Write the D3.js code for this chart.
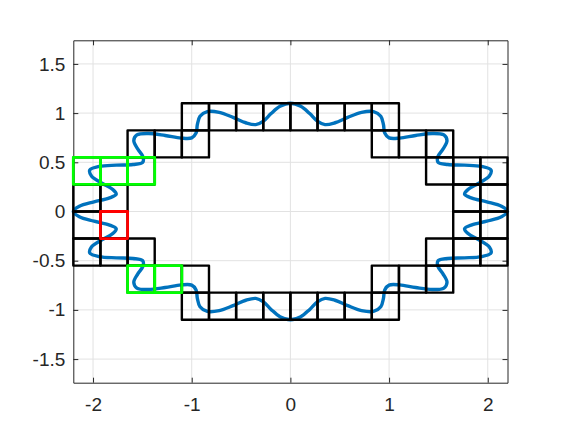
<!DOCTYPE html>
<html>
<head>
<meta charset="utf-8">
<script src="https://cdn.jsdelivr.net/npm/d3@7"></script>
<style>
  body { margin: 0; background: #fff; }
  .tick text { font-family: "Liberation Sans", Arial, sans-serif; font-size: 19px; fill: #262626; }
  .tick line, .domain { stroke: #262626; }
</style>
</head>
<body>
<div id="chart"></div>
<script>
const xTicks = [-2, -1, 0, 1, 2];
const yTicks = [-1.5, -1, -0.5, 0, 0.5, 1, 1.5];
const xLimits = [-2.2, 2.2];
const yLimits = [-1.74, 1.74];

// wavy closed curve (2.2, 0)
const curveX = [
  2.200, 2.139, 1.990, 1.839, 1.765, 1.803, 1.914, 2.016, 2.033, 1.936, 1.764, 1.594, 1.497, 1.493, 1.546, 1.587,
  1.556, 1.438, 1.269, 1.107, 1.000, 0.956, 0.943, 0.916, 0.842, 0.721, 0.581, 0.452, 0.351, 0.273, 0.196, 0.105,
  0.000, -0.105, -0.196, -0.273, -0.351, -0.452, -0.581, -0.721, -0.842, -0.916, -0.943, -0.956, -1.000, -1.107, -1.269, -1.438,
  -1.556, -1.587, -1.546, -1.493, -1.497, -1.594, -1.764, -1.936, -2.033, -2.016, -1.914, -1.803, -1.765, -1.839, -1.990, -2.139,
  -2.200, -2.139, -1.990, -1.839, -1.765, -1.803, -1.914, -2.016, -2.033, -1.936, -1.764, -1.594, -1.497, -1.493, -1.546, -1.587,
  -1.556, -1.438, -1.269, -1.107, -1.000, -0.956, -0.943, -0.916, -0.842, -0.721, -0.581, -0.452, -0.351, -0.273, -0.196, -0.105,
  0.000, 0.105, 0.196, 0.273, 0.351, 0.452, 0.581, 0.721, 0.842, 0.916, 0.943, 0.956, 1.000, 1.107, 1.269, 1.438,
  1.556, 1.587, 1.546, 1.493, 1.497, 1.594, 1.764, 1.936, 2.033, 2.016, 1.914, 1.803, 1.765, 1.839, 1.990, 2.139
];
const curveY = [
  0.000, 0.053, 0.098, 0.136, 0.176, 0.226, 0.290, 0.361, 0.421, 0.458, 0.471, 0.478, 0.500, 0.554, 0.634, 0.719,
  0.778, 0.793, 0.773, 0.746, 0.748, 0.797, 0.882, 0.968, 1.016, 1.008, 0.957, 0.902, 0.883, 0.919, 0.995, 1.069,
  1.100, 1.069, 0.995, 0.919, 0.883, 0.902, 0.957, 1.008, 1.016, 0.968, 0.882, 0.797, 0.748, 0.746, 0.773, 0.793,
  0.778, 0.719, 0.634, 0.554, 0.500, 0.478, 0.471, 0.458, 0.421, 0.361, 0.290, 0.226, 0.176, 0.136, 0.098, 0.053,
  0.000, -0.053, -0.098, -0.136, -0.176, -0.226, -0.290, -0.361, -0.421, -0.458, -0.471, -0.478, -0.500, -0.554, -0.634, -0.719,
  -0.778, -0.793, -0.773, -0.746, -0.748, -0.797, -0.882, -0.968, -1.016, -1.008, -0.957, -0.902, -0.883, -0.919, -0.995, -1.069,
  -1.100, -1.069, -0.995, -0.919, -0.883, -0.902, -0.957, -1.008, -1.016, -0.968, -0.882, -0.797, -0.748, -0.746, -0.773, -0.793,
  -0.778, -0.719, -0.634, -0.554, -0.500, -0.478, -0.471, -0.458, -0.421, -0.361, -0.290, -0.226, -0.176, -0.136, -0.098, -0.053
];

// grid cells the curve passes through, lower-left corners
const cellSize = 0.275;
const blackCells = [
  [-1.1, 0.825], [-0.825, 0.825], [-0.55, 0.825], [-0.275, 0.825], [0, 0.825], [0.275, 0.825], [0.55, 0.825], [0.825, 0.825],
  [-1.65, 0.55], [-1.375, 0.55], [-1.1, 0.55], [0.825, 0.55], [1.1, 0.55], [1.375, 0.55],
  [-2.2, 0.275], [-1.925, 0.275], [-1.65, 0.275], [1.375, 0.275], [1.65, 0.275], [1.925, 0.275],
  [-2.2, 0], [-1.925, 0], [1.65, 0], [1.925, 0],
  [-2.2, -0.275], [-1.925, -0.275], [1.65, -0.275], [1.925, -0.275],
  [-2.2, -0.55], [-1.925, -0.55], [-1.65, -0.55], [1.375, -0.55], [1.65, -0.55], [1.925, -0.55],
  [-1.65, -0.825], [-1.375, -0.825], [-1.1, -0.825], [0.825, -0.825], [1.1, -0.825], [1.375, -0.825],
  [-1.1, -1.1], [-0.825, -1.1], [-0.55, -1.1], [-0.275, -1.1], [0, -1.1], [0.275, -1.1], [0.55, -1.1], [0.825, -1.1]
];
const greenCells = [[-2.2, 0.275], [-1.925, 0.275], [-1.65, 0.275], [-1.65, -0.825], [-1.375, -0.825]];
const redCells = [[-1.925, -0.275]];

document.addEventListener('DOMContentLoaded', function () {
    const width = 561;
    const height = 439;
    const margin = { left: 73.3, right: 53.5, top: 40.3, bottom: 56.3 };

    const svg = d3.select('#chart')
        .append('svg')
        .attr('width', width)
        .attr('height', height);

    const x = d3.scaleLinear().domain(xLimits).range([margin.left, width - margin.right]);
    const y = d3.scaleLinear().domain(yLimits).range([height - margin.bottom, margin.top]);

    // grid
    svg.append('g').selectAll('line')
        .data(xTicks)
        .enter()
        .append('line')
        .attr('x1', d => x(d)).attr('x2', d => x(d))
        .attr('y1', y.range()[0]).attr('y2', y.range()[1])
        .attr('stroke', '#e2e2e2');
    svg.append('g').selectAll('line')
        .data(yTicks)
        .enter()
        .append('line')
        .attr('y1', d => y(d)).attr('y2', d => y(d))
        .attr('x1', x.range()[0]).attr('x2', x.range()[1])
        .attr('stroke', '#e2e2e2');

    // axes with inward ticks on all sides
    const fmt = d => String(d);
    svg.append('g')
        .attr('transform', `translate(0,${y.range()[0]})`)
        .call(d3.axisBottom(x).tickValues(xTicks).tickFormat(fmt).tickSizeInner(-5).tickSizeOuter(0).tickPadding(15));
    svg.append('g')
        .attr('transform', `translate(0,${y.range()[1]})`)
        .call(d3.axisTop(x).tickValues(xTicks).tickFormat('').tickSizeInner(-5).tickSizeOuter(0));
    svg.append('g')
        .attr('transform', `translate(${x.range()[0]},0)`)
        .call(d3.axisLeft(y).tickValues(yTicks).tickFormat(fmt).tickSizeInner(-5).tickSizeOuter(0).tickPadding(8));
    svg.append('g')
        .attr('transform', `translate(${x.range()[1]},0)`)
        .call(d3.axisRight(y).tickValues(yTicks).tickFormat('').tickSizeInner(-5).tickSizeOuter(0));
    svg.selectAll('.tick text').attr('font-family', null).attr('font-size', null);

    // curve
    const pts = curveX.map((v, i) => [v, curveY[i]]);
    const line = d3.line()
        .x(d => x(d[0]))
        .y(d => y(d[1]))
        .curve(d3.curveCatmullRomClosed.alpha(0.5));
    svg.append('path')
        .datum(pts)
        .attr('d', line)
        .attr('fill', 'none')
        .attr('stroke', '#0072BD')
        .attr('stroke-width', 3.4);

    // cells
    function drawCells(cells, color, w) {
        svg.append('g').selectAll('rect')
            .data(cells)
            .enter()
            .append('rect')
            .attr('x', d => x(d[0]))
            .attr('y', d => y(d[1] + cellSize))
            .attr('width', d => x(d[0] + cellSize) - x(d[0]))
            .attr('height', d => y(d[1]) - y(d[1] + cellSize))
            .attr('fill', 'none')
            .attr('stroke', color)
            .attr('stroke-width', w)
            .attr('stroke-linejoin', 'round');
    }
    drawCells(blackCells, '#000000', 2.4);
    drawCells(greenCells, '#00ff00', 2.8);
    drawCells(redCells, '#ff0000', 2.8);
});
</script>
</body>
</html>
